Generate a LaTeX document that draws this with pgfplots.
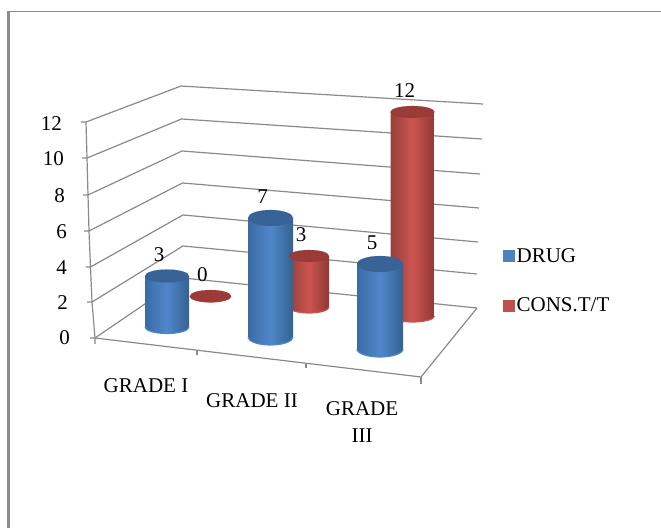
\documentclass[border=0pt]{standalone}
\usepackage{fontspec}
\setmainfont{Liberation Serif}
\usepackage{pgfplots}
\pgfplotsset{compat=1.18}

\definecolor{gridgray}{HTML}{8A8A8A}
\definecolor{frameg}{HTML}{8C8C8C}
\definecolor{blueL}{HTML}{3A6BA5}
\definecolor{blueM}{HTML}{5087CB}
\definecolor{blueR}{HTML}{34628F}
\definecolor{blueT}{HTML}{386397}
\definecolor{redL}{HTML}{96403D}
\definecolor{redM}{HTML}{CD5450}
\definecolor{redR}{HTML}{8F3836}
\definecolor{redT}{HTML}{9A3B38}
\definecolor{legblue}{HTML}{4F81BD}
\definecolor{legred}{HTML}{C0504D}

\newcommand{\labelfont}{\fontsize{21}{27}\selectfont}

% One cylinder: x, y, value, half width, half height of its ellipse, colour prefix
\newcommand{\cyl}[6]{%
  \pgfmathsetmacro\ax{60*#4/7664.2}%
  \pgfmathsetmacro\ay{13*#4/7664.2}%
  \pgfmathsetmacro\xl{#1-\ax}%
  \pgfmathsetmacro\yl{#2-\ay}%
  \pgfmathsetmacro\xr{#1+\ax}%
  \pgfmathsetmacro\yr{#2+\ay}%
  \addplot3[forget plot, draw=none, left color=#6L, right color=#6R, middle color=#6M]
    coordinates {(\xl,\yl,0) (\xl,\yl,#3) (\xr,\yr,#3) (\xr,\yr,0)}
    arc[start angle=0, end angle=-180, x radius=#4pt, y radius=#5pt] -- cycle;
  % lighter rim along the base
  \addplot3[forget plot, draw=#6M, line width=1.2pt, mark=none]
    coordinates {(\xr,\yr,0)}
    arc[start angle=0, end angle=-180, x radius=#4pt, y radius=#5pt];
  \addplot3[forget plot, only marks, mark=*, mark size=#4pt,
    mark options={draw=#6T, fill=#6T, line width=0.1pt, yscale=#5/#4},
    point meta=z, nodes near coords,
    every node near coord/.append style={font=\labelfont, text=black, inner sep=0pt,
      anchor=center, xshift=-8pt, yshift=21.5pt}]
    coordinates {(#1,#2,#3)};
}

\begin{document}
\begin{tikzpicture}[x=1pt,y=1pt]
\path[use as bounding box] (0,0) rectangle (661,528);
\draw[frameg, line width=1.5pt] (661,516.5) -- (8.7,516.5);
\draw[frameg, line width=2.6pt] (8.7,517.2) -- (8.7,0);
\begin{axis}[
  at={(95pt,190pt)}, anchor=origin,
  x={(108.67pt,-13pt)}, y={(88pt,60pt)}, z={(0pt,17pt)},
  disabledatascaling, clip=false,
  xmin=0, xmax=3, ymin=0, ymax=1, zmin=0, zmax=12.642,
  axis x line*=bottom, axis z line*=left, axis y line=none,
  axis line style={draw=none}, major tick length=0pt,
  /pgf/number format/assume math mode=true,
  tick label style={font=\labelfont, text=black},
  xtick={0.4693,1.4447,2.457},
  xticklabels={\rule{0pt}{17.5pt}GRADE I,\rule{0pt}{19.5pt}GRADE II,GRADE\\III},
  xticklabel style={align=center, anchor=north, inner sep=0pt, yshift=-31pt},
  ztick={0,2.096,4.144,6.252,8.363,10.531,12.642},
  zticklabels={0\kern25pt,2\kern27pt,4\kern28pt,6\kern28pt,8\kern30pt,10\kern31pt,12\kern33pt},
  zticklabel style={anchor=east, inner sep=0pt},
  ytick=\empty,
  legend style={at={(axis cs:2.5338,1.5073,0)}, anchor=west, draw=none, fill=none,
    font=\labelfont, row sep=30pt, inner sep=0pt,
    /tikz/every even column/.append style={column sep=5pt}},
  legend cell align=left,
]
% legend swatches
\addlegendimage{legend image code/.code={\fill[legblue] (0pt,-5.5pt) rectangle (11pt,5.5pt);}}
\addlegendentry{DRUG}
\addlegendimage{legend image code/.code={\fill[legred] (0pt,-5.5pt) rectangle (11pt,5.5pt);}}
\addlegendentry{CONS.T/T}

% gridlines on the two walls, each ending in its tick on the value axis
\pgfplotsset{wall/.style={forget plot, gridgray, line width=1.2pt, mark=none}}
\addplot3[wall] coordinates {(2.7606,1,12.346) (-0.0184,1,11.278) (-0.0828,0,12.642) (-0.1219,-0.0085,12.642)};
\addplot3[wall] coordinates {(2.7514,1,10.279) (-0.0138,1,9.342) (-0.0736,0,10.531) (-0.1127,-0.0085,10.531)};
\addplot3[wall] coordinates {(2.733,1,8.207) (-0.0092,1,7.464) (-0.0644,0,8.363) (-0.1035,-0.0085,8.363)};
\addplot3[wall] coordinates {(2.7238,1,6.2) (-0.0046,1,5.585) (-0.0552,0,6.252) (-0.0943,-0.0085,6.252)};
\addplot3[wall] coordinates {(2.7146,1,4.193) (0,1,3.706) (-0.0414,0,4.144) (-0.0805,-0.0085,4.144)};
\addplot3[wall] coordinates {(2.7054,1,2.304) (0,1,1.883) (-0.0276,0,2.096) (-0.0667,-0.0085,2.096)};
\addplot3[wall] coordinates {(2.7054,1,0.304) (0,1,0) (0,0,0) (-0.0391,-0.0085,0)};
% value axis
\addplot3[wall] coordinates {(-0.0828,0,12.642) (-0.0736,0,10.531) (-0.0644,0,8.363) (-0.0552,0,6.252) (-0.0414,0,4.144) (-0.0276,0,2.096) (0,0,0)};
% floor edges
\addplot3[wall] coordinates {(0,0,-0.35) (0,0,0) (0.9386,0,0) (3,0,0) (2.7054,1,0.304)};
\addplot3[wall] coordinates {(0.9386,0,0) (0.9386,0,-0.3)};
\addplot3[wall] coordinates {(1.9417,0,0) (1.9417,0,-0.3)};
\addplot3[wall] coordinates {(3,0,0) (3,0,-0.4)};

% rear series
\cyl{0.422}{0.7911}{0}{20.5}{6}{red}
\cyl{1.3194}{0.8025}{3}{20}{6}{red}
\cyl{2.233}{0.8505}{12}{22}{6}{red}
% front series
\cyl{0.4374}{0.2781}{3}{22}{6.5}{blue}
\cyl{1.3624}{0.3119}{7}{22.5}{8}{blue}
\cyl{2.3575}{0.3274}{5}{23}{8}{blue}
\end{axis}
\end{tikzpicture}
\end{document}
